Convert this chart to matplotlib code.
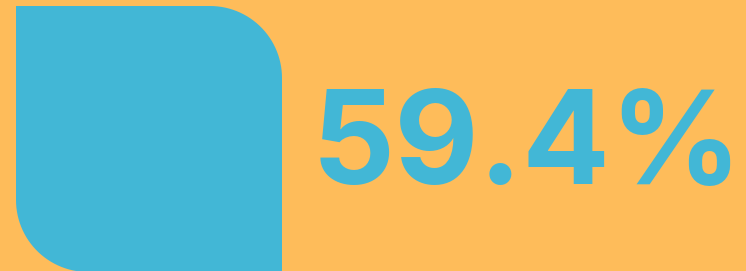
import matplotlib
matplotlib.use("Agg")
import matplotlib.pyplot as plt
import numpy as np
from matplotlib.path import Path
from matplotlib.patches import PathPatch
from matplotlib.font_manager import FontProperties, findfont

# data
value = [59.4]
labels = ["59.4%"]

BG = "#FEBC5A"
BLUE = "#42B7D6"
W, H = 746, 271


def ink_box(fp, size):
    """Measure ink box and layout box (px) of the label at `size` pt, baseline-left at (100, 300)."""
    f = plt.figure(figsize=(14, 5), dpi=100)
    t = f.text(100 / 1400, 1 - 300 / 500, labels[0], fontproperties=fp, fontsize=size,
               ha="left", va="baseline", color="black")
    f.canvas.draw()
    ext = t.get_window_extent(f.canvas.get_renderer())
    a = np.asarray(f.canvas.buffer_rgba())[:, :, 0]
    plt.close(f)
    ys, xs = np.where(a < 128)
    return xs.min() - 100, xs.max() - 100, ys.min() - 300, ys.max() - 300, ext.x1 - 100


fig = plt.figure(figsize=(W / 100, H / 100), dpi=100)
fig.patch.set_facecolor(BG)
ax = fig.add_axes([0, 0, 1, 1])
ax.set_xlim(0, W)
ax.set_ylim(H, 0)
ax.axis("off")

# rounded tile (top-right and bottom-left rounded)
x0, x1, y0, y1, r = 16, 282, 6, 272, 72
verts, codes = [(x0, y0)], [Path.MOVETO]
verts.append((x1 - r, y0)); codes.append(Path.LINETO)
for t in np.linspace(-np.pi / 2, 0, 30)[1:]:
    verts.append((x1 - r + r * np.cos(t), y0 + r + r * np.sin(t))); codes.append(Path.LINETO)
verts.append((x1, y1)); codes.append(Path.LINETO)
verts.append((x0 + r, y1)); codes.append(Path.LINETO)
for t in np.linspace(np.pi / 2, np.pi, 30)[1:]:
    verts.append((x0 + r + r * np.cos(t), y1 - r + r * np.sin(t))); codes.append(Path.LINETO)
verts.append((x0, y0)); codes.append(Path.CLOSEPOLY)
ax.add_patch(PathPatch(Path(verts, codes), facecolor=BLUE, edgecolor="none"))

# text, fitted inside the reference ink box and inside the canvas
tx0, tx1, ty0, ty1 = 320, 737, 86, 187
cands = [("Lato", "bold"), ("Inter", "bold"), ("Roboto", "bold"),
         ("Open Sans", "bold"), ("Noto Sans", "bold")]
target = (tx1 - tx0) / (ty1 - ty0)
best = None
for fam, wt in cands:
    fp = FontProperties(family=fam, weight=wt)
    try:
        findfont(fp, fallback_to_default=False)
    except Exception:
        continue
    b = ink_box(fp, 60)
    ratio = (b[1] - b[0]) / (b[3] - b[2])
    if best is None or abs(ratio - target) < abs(best[2] - target):
        best = (fp, b, ratio)
fp, b, ratio = best
k = min((ty1 - ty0) / (b[3] - b[2]), (tx1 - tx0) / (b[1] - b[0]))
fs = 60 * k
for _ in range(6):
    bx0, bx1, by0, by1, lx1 = ink_box(fp, fs)
    if tx0 - bx0 + lx1 <= W - 3:
        break
    fs *= (W - 3 - tx0 + bx0) / lx1
bx0, bx1, by0, by1, lx1 = ink_box(fp, fs)
ycen = (ty0 + ty1) / 2 - (by0 + by1) / 2
ax.text(tx0 - bx0, ycen, labels[0], fontproperties=fp,
        fontsize=fs, color=BLUE, ha="left", va="baseline")

fig.savefig("out.png", dpi=100, facecolor=BG)
